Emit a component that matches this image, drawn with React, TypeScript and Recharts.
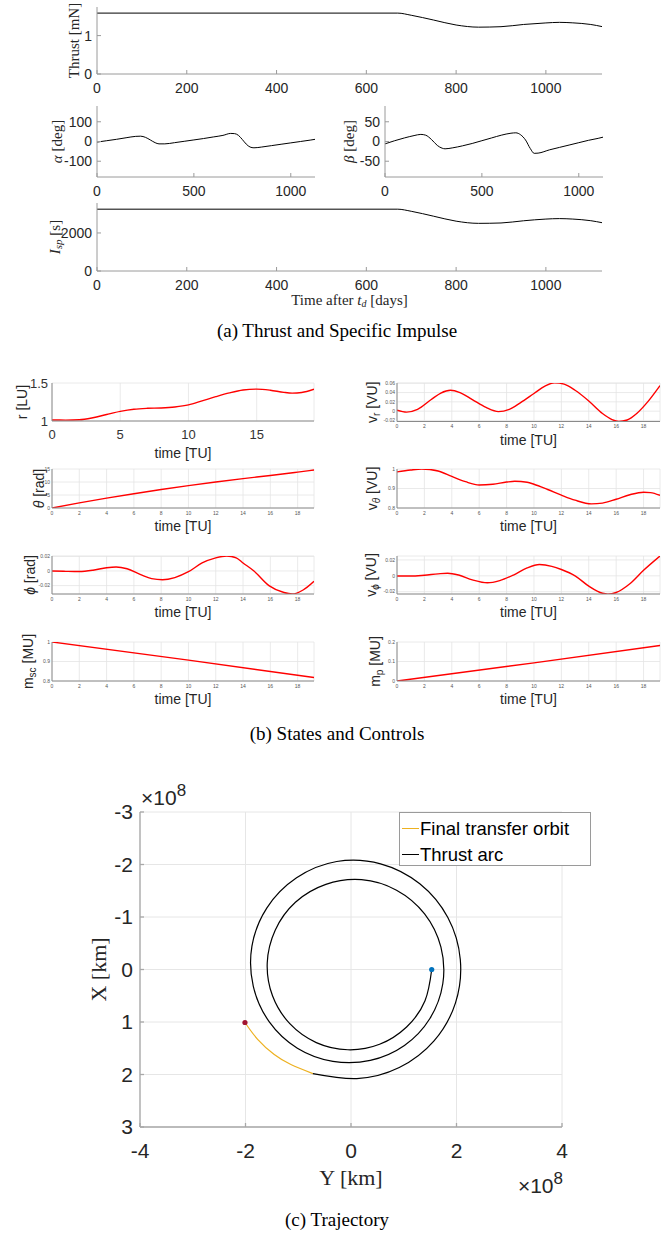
import React from 'react';
import { LineChart, Line, XAxis, YAxis, CartesianGrid, ReferenceDot, Legend } from 'recharts';

const SANS = "'Liberation Sans', Arial, Helvetica, sans-serif";
const SERIF = "'Liberation Serif', 'Times New Roman', serif";
const TXT = '#262626';

// ---------------- (a) Thrust and Specific Impulse ----------------
const thrustDays = [0, 670, 700, 750, 800, 850, 900, 950, 1000, 1030, 1060, 1100, 1125];
const thrustMN = [1.586, 1.586, 1.53, 1.405, 1.276, 1.22, 1.232, 1.29, 1.33, 1.345, 1.332, 1.29, 1.235];
const ispSec = [3250, 3250, 3140, 2880, 2620, 2505, 2525, 2640, 2730, 2755, 2730, 2645, 2540];
const alphaDays = [0, 50, 100, 150, 200, 225, 250, 275, 300, 320, 350, 400, 450, 500, 550, 600, 650, 690, 710, 730, 750, 770, 790, 810, 850, 900, 950, 1000, 1050, 1100, 1125];
const alphaDeg = [-3, 4, 11, 19, 26, 27, 21, 8, -6, -12, -12, -6, 1, 8, 15, 23, 31, 41, 40, 31, 10, -13, -28, -32, -28, -21, -14, -7, 0, 7, 11];
const betaDays = [0, 50, 100, 150, 185, 210, 240, 270, 295, 310, 350, 400, 450, 500, 550, 600, 650, 675, 700, 725, 750, 770, 790, 850, 900, 950, 1000, 1050, 1100, 1125];
const betaDeg = [-6, 2, 9, 15, 18, 16, 5, -10, -17, -18.5, -16, -11, -5, 2, 9, 16, 21, 22, 17, 4, -18, -30, -29.5, -21, -15, -9, -3, 3, 8, 11];

const daysDomain: [number, number] = [0, 1125];
const daysTicksWide = [0, 200, 400, 600, 800, 1000];
const daysTicksNarrow = [0, 500, 1000];
const thrustTicks = [0, 1];
const alphaTicks = [-100, 0, 100];
const betaTicks = [-50, 0, 50];
const ispTicks = [0, 2000];

// ---------------- (b) States and Controls ----------------
const rTime = [0, 1, 2, 3, 4, 5, 6, 7, 8, 9, 10, 11, 12, 13, 14, 15, 16, 17, 17.6, 18.3, 19.2];
const rLU = [1.013, 1.012, 1.016, 1.043, 1.086, 1.127, 1.155, 1.167, 1.172, 1.185, 1.212, 1.265, 1.32, 1.37, 1.408, 1.42, 1.405, 1.376, 1.367, 1.375, 1.418];
const thetaTime = [0, 2, 4, 6, 8, 10, 12, 14, 16, 18, 19.2];
const thetaRad = [0, 1.95, 3.8, 5.5, 7.1, 8.6, 10.0, 11.3, 12.5, 13.8, 14.6];
const vrTime = [0, 0.7, 1.5, 2.5, 3.2, 3.9, 4.6, 5.5, 6.5, 7.4, 8.2, 9, 10, 10.8, 11.5, 12.2, 13, 14, 15, 15.7, 16.2, 16.8, 17.5, 18.3, 19.2];
const vrVU = [0.002, -0.002, 0.004, 0.025, 0.039, 0.045, 0.04, 0.025, 0.008, -0.001, 0.004, 0.018, 0.038, 0.054, 0.061, 0.058, 0.045, 0.022, -0.005, -0.018, -0.022, -0.019, -0.005, 0.02, 0.055];
const vthTime = [0, 1, 1.8, 3, 4, 5, 6, 7, 8, 8.6, 9.5, 10, 11, 12, 13, 14.2, 15, 16, 17, 18, 18.5, 19.2];
const vthVU = [0.985, 0.995, 1.0, 0.99, 0.962, 0.935, 0.918, 0.922, 0.933, 0.937, 0.932, 0.922, 0.895, 0.866, 0.84, 0.821, 0.825, 0.845, 0.868, 0.881, 0.879, 0.865];
const phTime = [0, 1, 2, 3, 4, 4.7, 5.5, 6.5, 7.3, 8.1, 9, 10, 11, 12, 12.8, 13.5, 14, 14.8, 15.9, 17, 17.6, 18.4, 19.2];
const phRad = [0, -0.0005, -0.0008, 0.001, 0.0045, 0.0055, 0.003, -0.005, -0.0105, -0.012, -0.009, -0.001, 0.011, 0.018, 0.0205, 0.018, 0.011, 0, -0.02, -0.0295, -0.0315, -0.026, -0.014];
const vphTime = [0, 1, 2, 3, 3.7, 4.5, 5.5, 6.6, 7.5, 8.5, 9.5, 10.4, 11.3, 12, 13, 14, 15, 15.4, 16, 17, 18, 19.2];
const vphVU = [-0.0002, -0.0003, 0.0008, 0.0025, 0.0033, 0.001, -0.005, -0.0088, -0.006, 0.001, 0.01, 0.0142, 0.012, 0.008, 0, -0.013, -0.022, -0.023, -0.021, -0.01, 0.007, 0.025];
const msTime = [0, 10, 19.2];
const msMU = [1.0, 0.907, 0.818];
const mpTime = [0, 10, 19.2];
const mpMU = [0, 0.093, 0.182];

const tuDomain: [number, number] = [0, 19.2];
const tuTicks = [0, 2, 4, 6, 8, 10, 12, 14, 16, 18];
const tuTicksBig = [0, 5, 10, 15];
const rTicks = [1, 1.5];
const thetaTicks = [0, 5, 10, 15];
const vrTicks = [-0.02, 0, 0.02, 0.04, 0.06];
const vthTicks = [0.8, 0.9, 1];
const phTicks = [-0.02, 0, 0.02];
const vphTicks = [-0.02, 0, 0.02];
const msTicks = [0.8, 0.9, 1];
const mpTicks = [0, 0.1, 0.2];

// ---------------- (c) Trajectory (units of 1e8 km), points read along the spiral ----------------
const thrustArcY = [1.53, 1.403, 1.054, 0.542, -0.059, -0.658, -1.16, -1.488, -1.588, -1.437, -1.054, -0.477, 0.2, 0.863, 1.395, 1.704, 1.74, 1.496, 1.013, 0.366, -0.343, -1.017, -1.549, -1.853, -1.878, -1.594, -1.032, -0.271, 0.561, 1.304, 1.836, 2.072, 1.981, 1.574, 0.915, 0.111, -0.722];
const thrustArcX = [0, 0.597, 1.095, 1.425, 1.529, 1.392, 1.032, 0.501, -0.123, -0.748, -1.28, -1.621, -1.711, -1.511, -1.06, -0.43, 0.272, 0.933, 1.447, 1.731, 1.749, 1.498, 0.997, 0.317, -0.445, -1.175, -1.747, -2.057, -2.013, -1.633, -0.99, -0.191, 0.635, 1.36, 1.868, 2.077, 1.983];
const finalArcY = [-0.722, -1.14, -1.455, -1.77, -2.01];
const finalArcX = [1.983, 1.81, 1.62, 1.33, 1.01];
const startPoint = { y: 1.53, x: 0 };
const endPoint = { y: -2.01, x: 1.01 };
const yKmTicks = [-4, -2, 0, 2, 4];
const xKmTicks = [-3, -2, -1, 0, 1, 2, 3];

type Pt = { t: number; v: number };
const zip = (ts: number[], vs: number[]): Pt[] => ts.map((t, i) => ({ t, v: vs[i] }));
const zipHV = (hs: number[], vs: number[]) => hs.map((h, i) => ({ h, v: vs[i] }));

// ---------------- label helpers ----------------
const rotLabel = (dist: number, content: React.ReactNode, family: string, size: number) => (props: any) => {
  const vb = props.viewBox || { x: 0, y: 0, width: 0, height: 0 };
  const cx = vb.x + vb.width - dist;
  const cy = vb.y + vb.height / 2;
  return (
    <text x={cx} y={cy} transform={`rotate(-90 ${cx} ${cy})`} textAnchor="middle" dominantBaseline="central"
      fontFamily={family} fontSize={size} fill={TXT}>{content}</text>
  );
};
const bottomLabel = (dist: number, content: React.ReactNode, family: string, size: number) => (props: any) => {
  const vb = props.viewBox || { x: 0, y: 0, width: 0, height: 0 };
  const cx = vb.x + vb.width / 2;
  const cy = vb.y + dist;
  return (
    <text x={cx} y={cy} textAnchor="middle" dominantBaseline="central" fontFamily={family} fontSize={size} fill={TXT}>{content}</text>
  );
};

interface PanelProps {
  left: number; top: number; w: number; h: number;
  data: Pt[];
  xDomain: [number, number]; yDomain: [number, number];
  xTicks: number[]; yTicks: number[];
  color: string; lineWidth: number;
  tickFont: number; tickFill: string;
  tickSize: number; xTickMargin: number; yTickMargin: number;
  axisColor: string; grid?: boolean; box?: boolean;
  yLabel: (p: any) => React.ReactNode;
  xLabel?: (p: any) => React.ReactNode;
  mr?: number;
}

const YW = 70, XH = 45, MT = 16;

function SeriesPanel(p: PanelProps) {
  const mr = p.mr ?? 6;
  const tick = { fontSize: p.tickFont, fill: p.tickFill, fontFamily: SANS };
  const tl = p.box ? { stroke: p.axisColor } : false;
  return (
    <div style={{ position: 'absolute', left: p.left - YW, top: p.top - MT }}>
      <LineChart width={YW + p.w + mr} height={MT + p.h + XH} data={p.data} margin={{ top: MT, right: mr, left: 0, bottom: 0 }}
        style={{ overflow: 'visible' }}>
        {p.grid && <CartesianGrid stroke="#e4e4e4" strokeWidth={0.8} />}
        <XAxis dataKey="t" type="number" domain={p.xDomain} ticks={p.xTicks} interval={0} allowDataOverflow height={XH}
          stroke={p.axisColor} tickLine={tl} tickSize={p.tickSize} tickMargin={p.xTickMargin} tick={tick}
          label={p.xLabel} />
        <YAxis type="number" domain={p.yDomain} ticks={p.yTicks} interval={0} allowDataOverflow width={YW}
          stroke={p.axisColor} tickLine={tl} tickSize={p.tickSize} tickMargin={p.yTickMargin} tick={tick}
          label={p.yLabel} />
        {p.box && (
          <XAxis xAxisId="top" orientation="top" type="number" domain={p.xDomain} ticks={p.xTicks} interval={0}
            allowDataOverflow height={0} stroke={p.axisColor} tick={false} tickSize={p.tickSize} tickLine={{ stroke: p.axisColor }} />
        )}
        {p.box && (
          <YAxis yAxisId="right" orientation="right" type="number" domain={p.yDomain} ticks={p.yTicks} interval={0}
            allowDataOverflow width={0} stroke={p.axisColor} tick={false} tickSize={p.tickSize} tickLine={{ stroke: p.axisColor }} />
        )}
        <Line dataKey="v" type="monotone" stroke={p.color} strokeWidth={p.lineWidth} dot={false} activeDot={false}
          isAnimationActive={false} />
      </LineChart>
    </div>
  );
}

const aCommon = {
  color: '#000', lineWidth: 1, tickFont: 14, tickFill: TXT, tickSize: -4, xTickMargin: 13, yTickMargin: 9,
  axisColor: '#9a9a9a', box: true, xDomain: daysDomain,
};
const bCommon = {
  color: '#ff0000', lineWidth: 1.4, tickFont: 5, tickFill: '#555', tickSize: 0, xTickMargin: 3, yTickMargin: 2,
  axisColor: '#8a8a8a', grid: true, box: false, xDomain: tuDomain, mr: 4,
};
const timeTU = (d: number) => bottomLabel(d, 'time [TU]', SANS, 14);
const sub = (main: React.ReactNode, s: React.ReactNode, rest: string, italicSub = false) => (
  <>
    <tspan>{main}</tspan>
    <tspan dy={4} fontSize={10} fontStyle={italicSub ? 'italic' : 'normal'}>{s}</tspan>
    <tspan dy={-4}>{rest}</tspan>
  </>
);

function TrajectoryChart() {
  const L = 140, T = 812, W = 422, H = 315, yw = 80, mt = 30, xh = 70, mr = 40;
  const thrustArc = zipHV(thrustArcY, thrustArcX);
  const finalArc = zipHV(finalArcY, finalArcX);
  const tick = { fontSize: 21, fill: TXT, fontFamily: SANS };
  const yLab = (props: any) => {
    const vb = props.viewBox;
    const px = vb.x + vb.width;
    const cx = px - 42;
    const cy = vb.y + vb.height / 2;
    return (
      <g>
        <text x={cx} y={cy} transform={`rotate(-90 ${cx} ${cy})`} textAnchor="middle" dominantBaseline="central"
          fontFamily={SERIF} fontSize={22} fill={TXT}>X [km]</text>
        <text x={px + 1} y={vb.y - 7} fontFamily={SANS} fontSize={21} fill={TXT}>
          ×10<tspan dy={-9} fontSize={17}>8</tspan>
        </text>
      </g>
    );
  };
  const xLab = (props: any) => {
    const vb = props.viewBox;
    const cx = vb.x + vb.width / 2;
    return (
      <g>
        <text x={cx} y={vb.y + 50} textAnchor="middle" dominantBaseline="central" fontFamily={SERIF} fontSize={22} fill={TXT}>Y [km]</text>
        <text x={vb.x + vb.width + 1} y={vb.y + 66} textAnchor="end" fontFamily={SANS} fontSize={21} fill={TXT}>
          ×10<tspan dy={-9} fontSize={17}>8</tspan>
        </text>
      </g>
    );
  };
  const legendOrder = ['Final transfer orbit', 'Thrust arc'];
  const renderLegend = (props: any) => {
    const items = [...(props.payload || [])].sort(
      (a: any, b: any) => legendOrder.indexOf(a.value) - legendOrder.indexOf(b.value));
    return (
      <div style={{
        boxSizing: 'border-box', width: 192, height: 54, border: '1px solid #9a9a9a', background: '#fff',
        paddingTop: 3, paddingLeft: 2, fontFamily: SANS, fontSize: 18.5, color: '#000',
      }}>
        {items.map((it: any) => (
          <div key={it.value} style={{ display: 'flex', alignItems: 'center', height: 25.7, whiteSpace: 'nowrap' }}>
            <span style={{ display: 'inline-block', width: 17, height: 0, borderTop: `1.2px solid ${it.color}`, marginRight: 1 }} />
            <span>{it.value}</span>
          </div>
        ))}
      </div>
    );
  };
  return (
    <div style={{ position: 'absolute', left: L - yw, top: T - mt }}>
      <LineChart width={yw + W + mr} height={mt + H + xh} margin={{ top: mt, right: mr, left: 0, bottom: 0 }}>
        <CartesianGrid stroke="#e6e6e6" strokeWidth={1} />
        <XAxis dataKey="h" type="number" domain={[-4, 4]} ticks={yKmTicks} interval={0} allowDataOverflow height={xh}
          stroke="#a8a8a8" strokeWidth={1.3} tickSize={-4} tickMargin={19.6} tick={tick} tickLine={{ stroke: '#a8a8a8' }}
          label={xLab} />
        <YAxis type="number" reversed domain={[-3, 3]} ticks={xKmTicks} interval={0} allowDataOverflow width={yw}
          stroke="#a8a8a8" strokeWidth={1.3} tickSize={-4} tickMargin={11} tick={tick} tickLine={{ stroke: '#a8a8a8' }}
          label={yLab} />
        <Line data={finalArc} dataKey="v" name="Final transfer orbit" type="natural" stroke="#EDB120" strokeWidth={1.2}
          dot={false} activeDot={false} isAnimationActive={false} />
        <Line data={thrustArc} dataKey="v" name="Thrust arc" type="natural" stroke="#000" strokeWidth={1.2}
          dot={false} activeDot={false} isAnimationActive={false} />
        <ReferenceDot x={startPoint.y} y={startPoint.x} r={2.6} fill="#0072BD" stroke="none" />
        <ReferenceDot x={endPoint.y} y={endPoint.x} r={2.6} fill="#A2142F" stroke="none" />
        <Legend layout="vertical" align="center" verticalAlign="middle" content={renderLegend}
          wrapperStyle={{ left: 399 - (L - yw), top: 812 - (T - mt), width: 192, height: 54 }} />
      </LineChart>
    </div>
  );
}

const captionStyle = (cy: number): React.CSSProperties => ({
  position: 'absolute', left: 0, width: 674, top: cy - 11, height: 22, lineHeight: '22px', textAlign: 'center',
  fontFamily: SERIF, fontSize: 19, color: '#000', whiteSpace: 'nowrap',
});

export default function App() {
  return (
    <div style={{ position: 'absolute', left: 0, top: 0, width: 665, height: 1234, overflow: 'hidden', background: '#fff' }}>
      <SeriesPanel {...aCommon} left={97} top={7} w={505} h={67} data={zip(thrustDays, thrustMN)}
        yDomain={[0, 1.745]} xTicks={daysTicksWide} yTicks={thrustTicks}
        yLabel={rotLabel(23, 'Thrust [mN]', SERIF, 15)} />
      <SeriesPanel {...aCommon} left={97} top={106} w={218} h={71} data={zip(alphaDays, alphaDeg)}
        yDomain={[-180, 180]} xTicks={daysTicksNarrow} yTicks={alphaTicks}
        yLabel={rotLabel(40, <><tspan fontStyle="italic">α</tspan> [deg]</>, SERIF, 15)} />
      <SeriesPanel {...aCommon} left={385} top={106} w={218} h={71} data={zip(betaDays, betaDeg)}
        yDomain={[-90, 90]} xTicks={daysTicksNarrow} yTicks={betaTicks}
        yLabel={rotLabel(36, <><tspan fontStyle="italic">β</tspan> [deg]</>, SERIF, 15)} />
      <SeriesPanel {...aCommon} left={97} top={203} w={505} h={68} data={zip(thrustDays, ispSec)}
        yDomain={[0, 3575]} xTicks={daysTicksWide} yTicks={ispTicks}
        yLabel={rotLabel(42, <><tspan fontStyle="italic">I</tspan><tspan fontStyle="italic" fontSize={11} dy={3}>sp</tspan><tspan dy={-3}> [s]</tspan></>, SERIF, 15)}
        xLabel={bottomLabel(29, <><tspan>Time after </tspan><tspan fontStyle="italic">t</tspan><tspan fontSize={10} fontStyle="italic" dy={3}>d</tspan><tspan dy={-3}> [days]</tspan></>, SERIF, 15)} />
      <div style={captionStyle(331)}>(a) Thrust and Specific Impulse</div>

      <SeriesPanel {...bCommon} tickFont={13} tickFill="#333" xTickMargin={9} yTickMargin={4}
        left={52} top={383} w={262} h={38} data={zip(rTime, rLU)}
        yDomain={[1, 1.5]} xTicks={tuTicksBig} yTicks={rTicks}
        yLabel={rotLabel(30, 'r [LU]', SANS, 14)} xLabel={timeTU(31.7)} />
      <SeriesPanel {...bCommon} left={397} top={383} w={263} h={38.5} data={zip(vrTime, vrVU)}
        yDomain={[-0.0222, 0.0605]} xTicks={tuTicks} yTicks={vrTicks}
        yLabel={rotLabel(25, sub('v', 'r', ' [VU]'), SANS, 14)} xLabel={timeTU(18.3)} />
      <SeriesPanel {...bCommon} left={52} top={469} w={262} h={39} data={zip(thetaTime, thetaRad)}
        yDomain={[0, 15]} xTicks={tuTicks} yTicks={thetaTicks}
        yLabel={rotLabel(13, <><tspan fontStyle="italic">θ</tspan> [rad]</>, SANS, 14)} xLabel={timeTU(18.4)} />
      <SeriesPanel {...bCommon} left={397} top={469} w={263} h={39} data={zip(vthTime, vthVU)}
        yDomain={[0.8, 1.0]} xTicks={tuTicks} yTicks={vthTicks}
        yLabel={rotLabel(25, sub('v', 'θ', ' [VU]', true), SANS, 14)} xLabel={timeTU(18.4)} />
      <SeriesPanel {...bCommon} left={52} top={556} w={262} h={38} data={zip(phTime, phRad)}
        yDomain={[-0.0315, 0.0205]} xTicks={tuTicks} yTicks={phTicks}
        yLabel={rotLabel(22, <><tspan fontStyle="italic">ϕ</tspan> [rad]</>, SANS, 14)} xLabel={timeTU(17.7)} />
      <SeriesPanel {...bCommon} left={397} top={556} w={263} h={38} data={zip(vphTime, vphVU)}
        yDomain={[-0.0229, 0.025]} xTicks={tuTicks} yTicks={vphTicks}
        yLabel={rotLabel(26, sub('v', 'ϕ', ' [VU]', true), SANS, 14)} xLabel={timeTU(17.7)} />
      <SeriesPanel {...bCommon} left={52} top={642} w={262} h={39} data={zip(msTime, msMU)}
        yDomain={[0.8, 1.0]} xTicks={tuTicks} yTicks={msTicks}
        yLabel={rotLabel(24, sub('m', 'sc', ' [MU]'), SANS, 14)} xLabel={timeTU(17.6)} />
      <SeriesPanel {...bCommon} left={397} top={642} w={263} h={39} data={zip(mpTime, mpMU)}
        yDomain={[0, 0.2]} xTicks={tuTicks} yTicks={mpTicks}
        yLabel={rotLabel(22, sub('m', 'p', ' [MU]'), SANS, 14)} xLabel={timeTU(17.6)} />
      <div style={captionStyle(734)}>(b) States and Controls</div>

      <TrajectoryChart />
      <div style={captionStyle(1220)}>(c) Trajectory</div>
    </div>
  );
}
